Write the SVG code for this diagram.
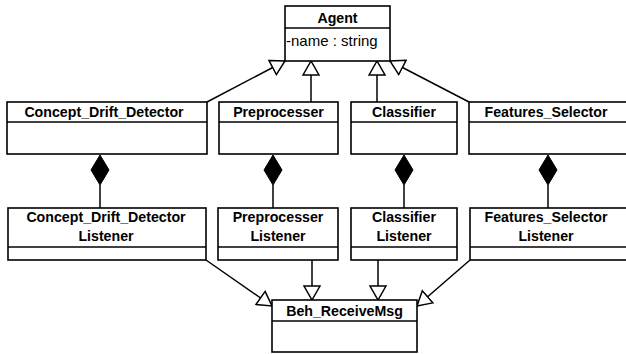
<svg xmlns="http://www.w3.org/2000/svg" width="626" height="354" viewBox="0 0 626 354">
<style>
.box{fill:#fff;stroke:#000;stroke-width:1.6}
.ln{stroke:#000;stroke-width:1.5;fill:none}
.t{font-family:"Liberation Sans",Arial,sans-serif;font-size:14.2px;font-weight:bold;text-anchor:middle;fill:#000}
.a{font-family:"Liberation Sans",Arial,sans-serif;font-size:15px;fill:#000}
.dm{fill:#000;stroke:#000;stroke-width:1}
</style>
<defs>
<marker id="tri" viewBox="0 0 16 18" refX="15" refY="9" markerWidth="16" markerHeight="18" markerUnits="userSpaceOnUse" orient="auto">
<path d="M1,1 L15,9 L1,17 Z" fill="#fff" stroke="#000" stroke-width="1.5"/>
</marker>
</defs>
<g id="connectors">
<line class="ln" x1="207" y1="102" x2="285" y2="61" marker-end="url(#tri)"/>
<line class="ln" x1="311" y1="102" x2="311" y2="61" marker-end="url(#tri)"/>
<line class="ln" x1="377" y1="102" x2="377" y2="61" marker-end="url(#tri)"/>
<line class="ln" x1="469" y1="102" x2="390" y2="61" marker-end="url(#tri)"/>
<line class="ln" x1="100" y1="185" x2="100" y2="208"/>
<path class="dm" d="M100,155 L109,170 L100,185 L91,170 Z"/>
<line class="ln" x1="273" y1="185" x2="273" y2="208"/>
<path class="dm" d="M273,155 L282,170 L273,185 L264,170 Z"/>
<line class="ln" x1="404" y1="185" x2="404" y2="208"/>
<path class="dm" d="M404,155 L413,170 L404,185 L395,170 Z"/>
<line class="ln" x1="548" y1="185" x2="548" y2="208"/>
<path class="dm" d="M548,155 L557,170 L548,185 L539,170 Z"/>
<line class="ln" x1="206" y1="260" x2="272" y2="306" marker-end="url(#tri)"/>
<line class="ln" x1="312" y1="260" x2="312" y2="300" marker-end="url(#tri)"/>
<line class="ln" x1="378" y1="260" x2="378" y2="300" marker-end="url(#tri)"/>
<line class="ln" x1="470" y1="260" x2="417" y2="306" marker-end="url(#tri)"/>
</g>
<g id="agent">
<rect class="box" x="285" y="6" width="105" height="55"/>
<line class="ln" x1="285" y1="28" x2="390" y2="28"/>
<text class="t" x="337.5" y="23">Agent</text>
<text class="a" x="286" y="46">-name : string</text>
</g>
<g id="cdd">
<rect class="box" x="7" y="102" width="200" height="52"/>
<line class="ln" x1="7" y1="122" x2="207" y2="122"/>
<text class="t" x="104" y="117">Concept_Drift_Detector</text>
</g>
<g id="pre">
<rect class="box" x="219" y="102" width="119" height="52"/>
<line class="ln" x1="219" y1="122" x2="338" y2="122"/>
<text class="t" x="278.5" y="117">Preprocesser</text>
</g>
<g id="cls">
<rect class="box" x="351" y="102" width="106" height="52"/>
<line class="ln" x1="351" y1="122" x2="457" y2="122"/>
<text class="t" x="404" y="117">Classifier</text>
</g>
<g id="fs">
<rect class="box" x="469" y="102" width="165" height="52"/>
<line class="ln" x1="469" y1="122" x2="634" y2="122"/>
<text class="t" x="546" y="117">Features_Selector</text>
</g>
<g id="cddl">
<rect class="box" x="8" y="208" width="198" height="52"/>
<line class="ln" x1="8" y1="247" x2="206" y2="247"/>
<text class="t" x="106" y="222">Concept_Drift_Detector</text>
<text class="t" x="106" y="241">Listener</text>
</g>
<g id="prel">
<rect class="box" x="218" y="208" width="120" height="52"/>
<line class="ln" x1="218" y1="247" x2="338" y2="247"/>
<text class="t" x="278" y="222">Preprocesser</text>
<text class="t" x="278" y="241">Listener</text>
</g>
<g id="clsl">
<rect class="box" x="351" y="208" width="106" height="52"/>
<line class="ln" x1="351" y1="247" x2="457" y2="247"/>
<text class="t" x="404" y="222">Classifier</text>
<text class="t" x="404" y="241">Listener</text>
</g>
<g id="fsl">
<rect class="box" x="470" y="208" width="164" height="52"/>
<line class="ln" x1="470" y1="247" x2="634" y2="247"/>
<text class="t" x="546" y="222">Features_Selector</text>
<text class="t" x="546" y="241">Listener</text>
</g>
<g id="beh">
<rect class="box" x="272" y="300" width="145" height="52"/>
<line class="ln" x1="272" y1="321" x2="417" y2="321"/>
<text class="t" x="344.5" y="316">Beh_ReceiveMsg</text>
</g>
</svg>
